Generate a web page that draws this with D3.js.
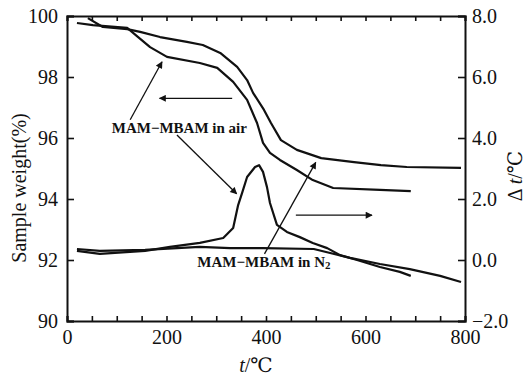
<!DOCTYPE html>
<html>
<head>
<meta charset="utf-8">
<script src="https://d3js.org/d3.v7.min.js"></script>
<style>
  html, body { margin: 0; padding: 0; background: #fff; }
  svg text { font-family: "Liberation Serif", "DejaVu Serif", serif; fill: #111; }
</style>
</head>
<body>
<div id="chart"></div>
<script>
// temperature (°C) / weight (%) of the TG curves
var tgAirT = [20, 52, 121, 143, 167, 201, 267, 302, 334, 362, 382, 394, 408, 428, 462, 494, 535, 629, 691];
var tgAirW = [99.77, 99.70, 99.61, 99.31, 98.98, 98.66, 98.46, 98.30, 97.84, 97.25, 96.49, 95.84, 95.51, 95.28, 94.95, 94.62, 94.36, 94.30, 94.26];
var tgN2T = [42, 72, 121, 147, 187, 241, 273, 308, 342, 362, 374, 396, 410, 430, 462, 511, 577, 631, 683, 792];
var tgN2W = [99.93, 99.64, 99.57, 99.48, 99.31, 99.15, 99.05, 98.79, 98.33, 97.90, 97.48, 96.92, 96.49, 95.93, 95.61, 95.34, 95.21, 95.11, 95.05, 95.02];

// temperature (°C) / delta t (°C) of the DTA curves
var dtaAirT = [20, 66, 157, 207, 267, 314, 334, 344, 352, 362, 378, 386, 394, 402, 408, 422, 442, 468, 494, 523, 549, 583, 629, 669, 691];
var dtaAirV = [0.30, 0.20, 0.30, 0.43, 0.56, 0.72, 1.05, 1.80, 2.20, 2.72, 3.05, 3.11, 2.89, 2.39, 1.87, 1.15, 0.92, 0.75, 0.56, 0.39, 0.16, 0.00, -0.23, -0.39, -0.52];
var dtaN2T = [20, 66, 157, 267, 328, 394, 496, 529, 569, 629, 689, 750, 792];
var dtaN2V = [0.36, 0.30, 0.33, 0.43, 0.39, 0.39, 0.36, 0.23, 0.07, -0.13, -0.30, -0.52, -0.72];

var xTicks = [0, 200, 400, 600, 800];
var yLeftTicks = [90, 92, 94, 96, 98, 100];
var yRightTicks = [-2, 0, 2, 4, 6, 8];

var labelAir = "MAM\u2212MBAM in air";
var labelN2 = "MAM\u2212MBAM in N";

var width = 528, height = 376;
var margin = { top: 16, right: 63, bottom: 55, left: 67 };
var w = width - margin.left - margin.right;
var h = height - margin.top - margin.bottom;

var svg = d3.select("#chart").append("svg")
  .attr("width", width)
  .attr("height", height);

var defs = svg.append("defs");
defs.append("marker")
  .attr("id", "arr")
  .attr("viewBox", "0 0 10 10")
  .attr("refX", 9).attr("refY", 5)
  .attr("markerWidth", 9).attr("markerHeight", 7)
  .attr("markerUnits", "userSpaceOnUse")
  .attr("orient", "auto")
  .append("path")
  .attr("d", "M0,0 L10,5 L0,10 Z")
  .attr("fill", "#111");

var g = svg.append("g").attr("transform", "translate(" + margin.left + "," + margin.top + ")");

var x = d3.scaleLinear().domain([0, 800]).range([0, w]);
var yL = d3.scaleLinear().domain([90, 100]).range([h, 0]);
var yR = d3.scaleLinear().domain([-2, 8]).range([h, 0]);

// axes, ticks pointing inward
var minorX = d3.range(0, 801, 50);
var axB = g.append("g").attr("transform", "translate(0," + h + ")")
  .call(d3.axisBottom(x).tickValues(minorX).tickSize(-5).tickPadding(9)
    .tickFormat(function (d) { return xTicks.indexOf(d) >= 0 ? d : ""; }));
var axT = g.append("g")
  .call(d3.axisTop(x).tickValues(minorX).tickSize(-5).tickFormat(""));
var axL = g.append("g")
  .call(d3.axisLeft(yL).tickValues(yLeftTicks).tickSize(-7).tickPadding(9).tickFormat(d3.format("d")));
var axR = g.append("g").attr("transform", "translate(" + w + ",0)")
  .call(d3.axisRight(yR).tickValues(yRightTicks).tickSize(-7).tickPadding(7)
    .tickFormat(function (d) { return d3.format(".1f")(d).replace("-", "\u2212"); }));

[axB, axT, axL, axR].forEach(function (a) {
  a.select(".domain").attr("stroke", "#111").attr("stroke-width", 2);
  a.selectAll(".tick line").attr("stroke", "#111").attr("stroke-width", 1.6);
  a.selectAll(".tick text").style("font-family", "Liberation Serif, serif").style("font-size", "20px").attr("fill", "#111");
});
axB.selectAll(".tick text").attr("dy", "0.72em");

// curves
var line = function (sx, sy) {
  return d3.line().x(function (d) { return x(d[0]); }).y(function (d) { return sy(d[1]); });
};
function draw(ts, vs, sy) {
  g.append("path")
    .datum(d3.zip(ts, vs))
    .attr("d", line(x, sy))
    .attr("fill", "none")
    .attr("stroke", "#111")
    .attr("stroke-width", 2.2)
    .attr("stroke-linejoin", "round");
}
draw(tgAirT, tgAirW, yL);
draw(tgN2T, tgN2W, yL);
draw(dtaAirT, dtaAirV, yR);
draw(dtaN2T, dtaN2V, yR);

// annotations (in data coordinates)
function arrow(t1, v1, t2, v2) {
  g.append("line")
    .attr("x1", x(t1)).attr("y1", yL(v1))
    .attr("x2", x(t2)).attr("y2", yL(v2))
    .attr("stroke", "#111").attr("stroke-width", 1.3)
    .attr("marker-end", "url(#arr)");
}
arrow(127, 96.6, 191, 98.5);   // air label -> air TG
arrow(221, 96.1, 341, 94.17);  // air label -> air DTA peak
arrow(332, 97.3, 186, 97.3);   // TG -> left axis
arrow(460, 93.47, 613, 93.47); // DTA -> right axis
arrow(397, 92.2, 500, 95.2);   // N2 label -> N2 TG

g.append("text")
  .attr("x", x(90)).attr("y", yL(96.18))
  .style("font-size", "15px").style("font-weight", "bold")
  .text(labelAir);

var tN2 = g.append("text")
  .attr("x", x(262)).attr("y", yL(91.78))
  .style("font-size", "15px").style("font-weight", "bold")
  .text(labelN2);
tN2.append("tspan").attr("dy", "2").style("font-size", "11px").text("2");

// axis titles
svg.append("text")
  .attr("transform", "translate(26," + 188 + ") rotate(-90)")
  .attr("text-anchor", "middle")
  .style("font-size", "20px")
  .text("Sample weight(%)");

var rt = svg.append("text")
  .attr("transform", "translate(522,176) rotate(-90)")
  .attr("text-anchor", "middle")
  .style("font-size", "20px");
rt.append("tspan").text("\u0394 ");
rt.append("tspan").style("font-style", "italic").text("t");
rt.append("tspan").text("/\u2103");

var xt = svg.append("text")
  .attr("x", 256).attr("y", 372)
  .attr("text-anchor", "middle")
  .style("font-size", "20px");
xt.append("tspan").style("font-style", "italic").text("t");
xt.append("tspan").text("/\u2103");
</script>
</body>
</html>
